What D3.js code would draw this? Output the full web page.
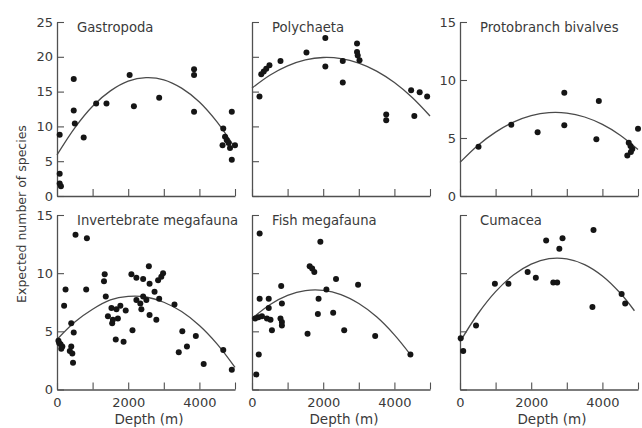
<!DOCTYPE html>
<html>
<head>
<meta charset="utf-8">
<script src="https://cdn.jsdelivr.net/npm/d3@7"></script>
<style>
  html, body { margin: 0; padding: 0; background: #fff; }
  svg { display: block; }
  text { font-family: "DejaVu Sans", sans-serif; fill: #3a3a3a; }
</style>
</head>
<body>
<svg id="chart" width="642" height="428"></svg>
<script>
// ---------------- DATA ----------------
const xTickValues = [0, 1000, 2000, 3000, 4000, 5000];
const xTickLabels = [0, 2000, 4000];
const yTicksTall = [0, 5, 10, 15, 20, 25];
const yTicksShort = [0, 5, 10, 15];
const fitDepths = [0, 500, 1000, 1500, 2000, 2500, 3000, 3500, 4000, 4500, 5000];

const titles = ["Gastropoda", "Polychaeta", "Protobranch bivalves",
                "Invertebrate megafauna", "Fish megafauna", "Cumacea"];

// Gastropoda
const gastroDepth = [75, 75, 75, 110, 470, 470, 500, 750, 1100, 1390, 2040, 2160, 2870, 3850, 3850, 3850,
                     4650, 4670, 4720, 4770, 4860, 4910, 4910, 5000, 4820];
const gastroValue = [8.8, 3.2, 1.8, 1.4, 16.8, 12.3, 10.4, 8.4, 13.3, 13.3, 17.4, 12.9, 14.1, 18.2, 17.4, 12.1,
                     7.3, 9.7, 8.5, 8.0, 6.9, 12.1, 5.2, 7.3, 7.6];
const gastroFit = [5.9, 9.8, 12.9, 15.1, 16.5, 17.0, 16.7, 15.5, 13.5, 10.6, 6.9];

// Polychaeta
const polyDepth = [210, 260, 330, 400, 490, 800, 1530, 2060, 2060, 2550, 2550, 2950, 2950, 2970, 3020,
                   3770, 3770, 4470, 4560, 4710, 4920];
const polyValue = [14.3, 17.5, 17.9, 18.3, 18.8, 19.4, 20.6, 22.7, 18.6, 19.4, 16.3, 21.9, 20.7, 20.2, 19.5,
                   11.7, 10.9, 15.2, 11.5, 14.9, 14.3];
const polyFit = [15.5, 17.35, 18.7, 19.55, 19.9, 19.75, 19.1, 17.95, 16.3, 14.15, 11.5];

// Protobranch bivalves
const protoDepth = [520, 1440, 2180, 2930, 2930, 3830, 3900, 4740, 4700, 4840, 4800, 4790, 5000];
const protoValue = [4.25, 6.15, 5.5, 8.9, 6.1, 4.9, 8.2, 4.6, 3.5, 4.05, 3.8, 4.3, 5.8];
const protoFit = [2.9, 4.36, 5.51, 6.37, 6.93, 7.19, 7.15, 6.81, 6.17, 5.24, 4.0];

// Invertebrate megafauna
const invDepth = [520, 840, 240, 200, 820, 60, 100, 150, 40, 120, 400, 470, 400, 360, 430, 450,
                  1340, 1320, 1370, 1430, 1530, 1570, 1550, 1670, 1780, 1710, 1930, 1650, 1870, 2120,
                  2090, 2230, 2420, 2600, 2840, 2980, 2930, 2580, 2230, 2340, 2420, 2370, 2510, 2600,
                  2790, 2740, 2870, 3300, 3520, 3650, 3420, 3900, 4120, 4670, 4910];
const invValue = [13.3, 13.0, 8.6, 7.2, 8.6, 4.0, 3.9, 3.7, 4.2, 3.5, 5.7, 4.9, 3.7, 3.3, 3.1, 2.3,
                  9.9, 9.3, 8.0, 6.3, 7.0, 6.0, 5.7, 6.9, 7.2, 6.1, 6.8, 4.3, 4.1, 5.1,
                  9.9, 9.6, 9.5, 9.1, 9.4, 10.0, 9.7, 10.6, 7.7, 7.4, 8.0, 6.9, 7.7, 6.4,
                  6.0, 8.4, 7.8, 7.3, 5.0, 3.7, 3.2, 4.6, 2.2, 3.4, 1.7];
const invFit = [4.3, 5.8, 6.9, 7.7, 8.0, 7.95, 7.5, 6.7, 5.5, 3.9, 1.9];

// Fish megafauna
const fishDepth = [215, 215, 190, 120, 470, 470, 420, 90, 180, 280, 520, 560, 820, 840, 800, 840, 840,
                   1620, 1690, 1750, 1920, 1870, 1850, 1560, 2090, 2280, 2360, 2590, 2980, 3460, 4450];
const fishValue = [13.4, 7.8, 3.0, 1.3, 7.8, 7.0, 6.1, 6.1, 6.2, 6.3, 6.0, 5.1, 8.9, 7.4, 6.1, 5.8, 5.5,
                   10.6, 10.4, 10.1, 12.7, 7.8, 6.5, 4.8, 8.6, 6.6, 9.5, 5.1, 9.0, 4.6, 3.0];
const fishFitDepth = [0, 500, 1000, 1500, 2000, 2500, 3000, 3500, 4000, 4450];
const fishFit = [6.1, 7.29, 8.09, 8.5, 8.52, 8.16, 7.39, 6.25, 4.7, 3.0];

// Cumacea
const cumaDepth = [20, 90, 450, 980, 1360, 1900, 2130, 2420, 2880, 2790, 2620, 2730, 3750, 3720, 4540, 4640];
const cumaValue = [4.4, 3.3, 5.5, 9.1, 9.1, 10.1, 9.6, 12.8, 13.0, 12.1, 9.2, 9.2, 13.7, 7.1, 8.2, 7.4];
const cumaFitDepth = [0, 500, 1000, 1500, 2000, 2500, 3000, 3500, 4000, 4500, 4900];
const cumaFit = [4.1, 6.49, 8.41, 9.84, 10.78, 11.25, 11.23, 10.74, 9.76, 8.29, 6.77];

// ---------------- LAYOUT ----------------
const colX = [57, 252, 460];
const panelW = 178;
const rowY = [[196, 22], [389.5, 215]];

const panels = [
  {title: titles[0], d: gastroDepth, v: gastroValue, fd: fitDepths, fv: gastroFit, ymax: 25, yt: yTicksTall, ylab: true, col: 0, row: 0},
  {title: titles[1], d: polyDepth, v: polyValue, fd: fitDepths, fv: polyFit, ymax: 25, yt: yTicksTall, ylab: false, col: 1, row: 0},
  {title: titles[2], d: protoDepth, v: protoValue, fd: fitDepths, fv: protoFit, ymax: 15, yt: yTicksShort, ylab: true, col: 2, row: 0},
  {title: titles[3], d: invDepth, v: invValue, fd: fitDepths, fv: invFit, ymax: 15, yt: yTicksShort, ylab: true, col: 0, row: 1},
  {title: titles[4], d: fishDepth, v: fishValue, fd: fishFitDepth, fv: fishFit, ymax: 15, yt: yTicksShort, ylab: false, col: 1, row: 1},
  {title: titles[5], d: cumaDepth, v: cumaValue, fd: cumaFitDepth, fv: cumaFit, ymax: 15, yt: yTicksShort, ylab: false, col: 2, row: 1}
];

const svg = d3.select("#chart");
const axisColor = "#505050";

panels.forEach(p => {
  const x0 = colX[p.col];
  const [yb, yt] = rowY[p.row];
  const x = d3.scaleLinear().domain([0, 5000]).range([x0, x0 + panelW]);
  const y = d3.scaleLinear().domain([0, p.ymax]).range([yb, yt]);
  const g = svg.append("g");

  // y axis
  const yAxis = d3.axisLeft(y).tickValues(p.yt).tickSizeInner(-7).tickSizeOuter(0).tickPadding(4)
    .tickFormat(p.ylab ? d3.format("d") : () => "");
  const ya = g.append("g").attr("transform", `translate(${x0},0)`).call(yAxis);

  // x axis
  const xAxis = d3.axisBottom(x).tickValues(xTickValues).tickSizeInner(-7).tickSizeOuter(0).tickPadding(8)
    .tickFormat(d => (p.row === 1 && xTickLabels.includes(d)) ? d : "");
  const xa = g.append("g").attr("transform", `translate(0,${yb})`).call(xAxis);

  [ya, xa].forEach(a => {
    a.selectAll("path.domain").attr("stroke", axisColor).attr("stroke-width", 1.3);
    a.selectAll(".tick line").attr("stroke", axisColor).attr("stroke-width", 1.1);
    a.selectAll(".tick text").attr("font-family", "DejaVu Sans").attr("font-size", 13).attr("fill", "#3a3a3a");
  });

  // title
  g.append("text").attr("x", x0 + 20).attr("y", yt + 10).attr("font-size", 13.2).text(p.title);

  // fitted curve
  const line = d3.line().x((d, i) => x(p.fd[i])).y((d, i) => y(p.fv[i])).curve(d3.curveCatmullRom);
  g.append("path").datum(p.fv).attr("d", line).attr("fill", "none")
    .attr("stroke", "#4a4a4a").attr("stroke-width", 1.3);

  // points
  g.selectAll("circle").data(p.d).join("circle")
    .attr("cx", (d) => x(d))
    .attr("cy", (d, i) => y(p.v[i]))
    .attr("r", 3)
    .attr("fill", "#151515");

  // x label
  if (p.row === 1) {
    g.append("text").attr("x", x0 + panelW / 2 + 3).attr("y", 424)
      .attr("text-anchor", "middle").attr("font-size", 13.5).text("Depth (m)");
  }
});

// y label
svg.append("text")
  .attr("transform", "translate(26,214) rotate(-90)")
  .attr("text-anchor", "middle")
  .attr("font-size", 12.5)
  .text("Expected number of species");
</script>
</body>
</html>
